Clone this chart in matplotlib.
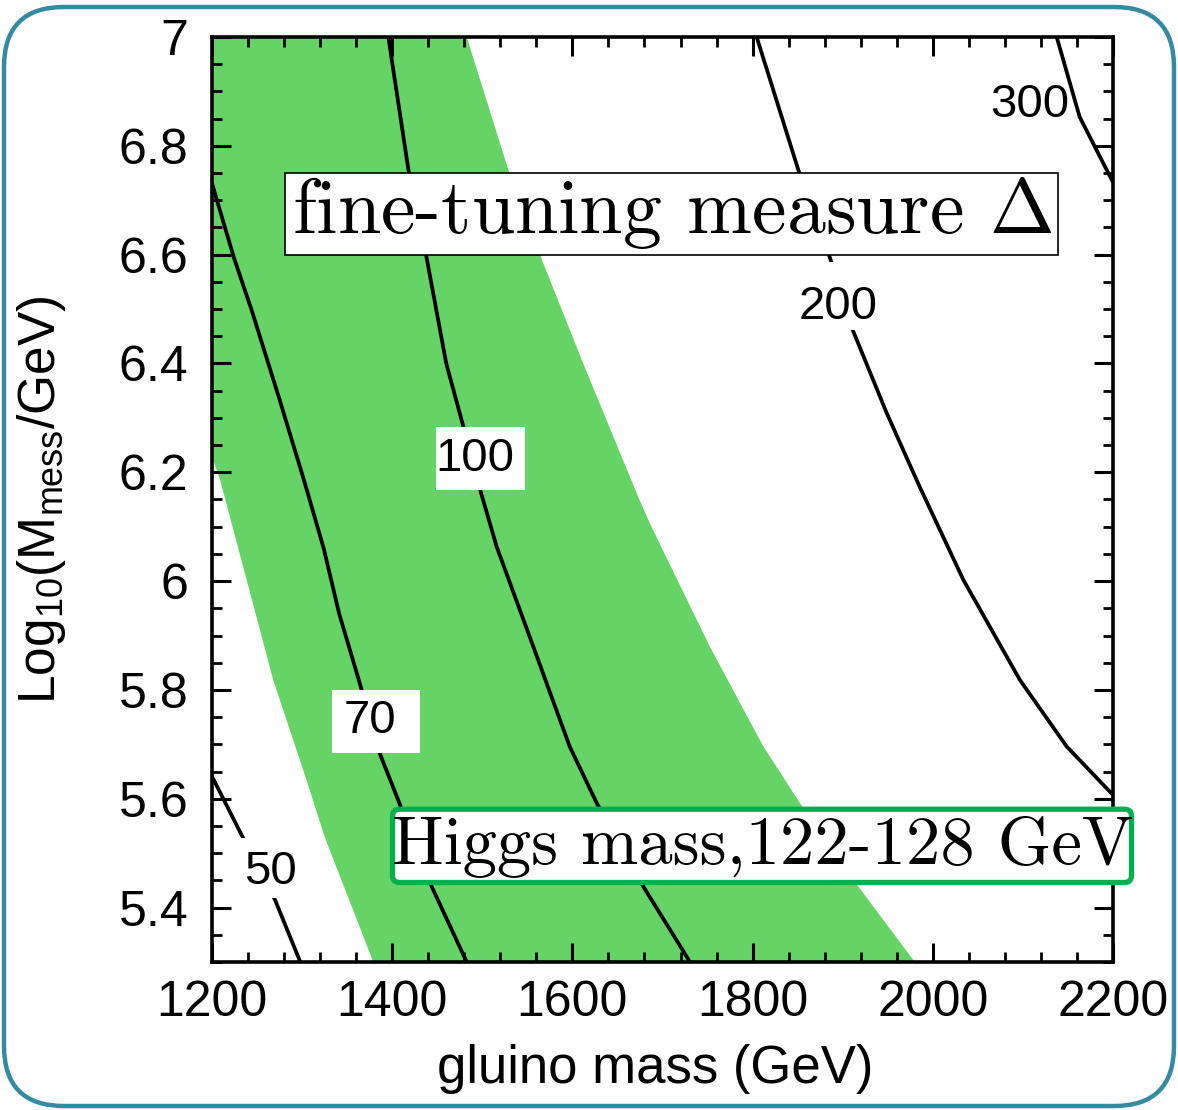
import numpy as np
import matplotlib
matplotlib.use('Agg')
import matplotlib.pyplot as plt
from matplotlib.patches import Rectangle, FancyBboxPatch
from matplotlib.ticker import MultipleLocator, FixedLocator, FixedFormatter
import matplotlib.transforms as mtransforms

plt.rcParams['font.family'] = ['Liberation Sans', 'DejaVu Sans']
plt.rcParams['mathtext.fontset'] = 'custom'
plt.rcParams['mathtext.rm'] = 'Liberation Sans'
plt.rcParams['mathtext.it'] = 'Liberation Sans:italic'
plt.rcParams['mathtext.bf'] = 'Liberation Sans:bold'
plt.rcParams['axes.formatter.use_mathtext'] = False

# ---------------- data ----------------
x_ticks = [1200, 1400, 1600, 1800, 2000, 2200]
x_tick_labels = ['1200', '1400', '1600', '1800', '2000', '2200']
y_ticks = [5.4, 5.6, 5.8, 6.0, 6.2, 6.4, 6.6, 6.8, 7.0]
y_tick_labels = ['5.4', '5.6', '5.8', '6', '6.2', '6.4', '6.6', '6.8', '7']

# Higgs mass 122-128 GeV band edges (gluino mass, log10 Mmess)
band_left_mass = [1379, 1325, 1305, 1268, 1238.5, 1209, 1200, 1130]
band_left_logm = [5.30, 5.53, 5.634, 5.818, 6.002, 6.186, 6.229, 7.0]
band_right_mass = [1980, 1911.8, 1852.6, 1812, 1752.7, 1686, 1673, 1612, 1567.7, 1528.9, 1482.7]
band_right_logm = [5.30, 5.451, 5.592, 5.696, 5.879, 6.106, 6.155, 6.40, 6.584, 6.756, 7.0]

# fine-tuning contours
c50_mass = [1200, 1233, 1270, 1298]
c50_logm = [5.641, 5.533, 5.414, 5.30]
c70_mass = [1200, 1224, 1244, 1274, 1302, 1324, 1341, 1363, 1386, 1408, 1444, 1482.7]
c70_logm = [6.731, 6.596, 6.498, 6.339, 6.186, 6.06, 5.941, 5.818, 5.684, 5.592, 5.438, 5.30]
c100_mass = [1395.7, 1418, 1438, 1460, 1479, 1499, 1516, 1551, 1597, 1627, 1679, 1730.5]
c100_logm = [7.0, 6.756, 6.596, 6.40, 6.284, 6.16, 6.063, 5.905, 5.696, 5.592, 5.438, 5.30]
c200_mass = [1804.5, 1850.7, 1887.8, 1911, 1948.8, 1985, 2034, 2096.8, 2148.6, 2200]
c200_logm = [7.0, 6.756, 6.585, 6.462, 6.309, 6.175, 6.002, 5.818, 5.696, 5.607]
c300_mass = [2137.5, 2163, 2200]
c300_logm = [7.0, 6.853, 6.733]

contours = [(c50_mass, c50_logm), (c70_mass, c70_logm), (c100_mass, c100_logm),
            (c200_mass, c200_logm), (c300_mass, c300_logm)]

# contour labels: (text, gluino mass, log10 Mmess)
label_text = ['50', '70', '100', '200', '300']
label_mass = [1264.4, 1375.4, 1491.9, 1894.8, 2107.9]
label_logm = [5.4654, 5.7429, 6.2253, 6.5038, 6.875]

# ---------------- figure ----------------
W, H = 1178, 1110
fig = plt.figure(figsize=(W / 100, H / 100), dpi=100)
pix = mtransforms.Affine2D().scale(1 / W, -1 / H).translate(0, 1) + fig.transFigure

ax = fig.add_axes([212 / W, 1 - 962 / H, 901 / W, 925 / H])
ax.set_xlim(1200, 2200)
ax.set_ylim(5.3, 7.0)

green = '#66d366'
band_x = list(band_left_mass) + list(band_right_mass[::-1])
band_y = list(band_left_logm) + list(band_right_logm[::-1])
ax.fill(band_x, band_y, color=green, lw=0, zorder=1)

for mx, ly in contours:
    ax.plot(mx, ly, color='black', lw=2.7, zorder=2, solid_capstyle='butt',
            solid_joinstyle='round')

# white gaps / boxes behind contour labels (pixel boxes)
label_boxes = {'50': (238, 838, 64, 60), '70': (332, 690, 88, 63),
               '100': (436, 427, 89, 63), '200': (795, 262, 88, 68)}
for t, mx, ly in zip(label_text, label_mass, label_logm):
    if t in label_boxes:
        bx, by, bw, bh = label_boxes[t]
        ax.add_patch(Rectangle((bx, by), bw, bh, transform=pix, fc='white',
                               ec='none', zorder=3))
    ax.text(mx, ly, t, ha='center', va='center', fontsize=34, zorder=4)

# ticks
ax.xaxis.set_major_locator(FixedLocator(x_ticks))
ax.xaxis.set_major_formatter(FixedFormatter(x_tick_labels))
ax.yaxis.set_major_locator(FixedLocator(y_ticks))
ax.yaxis.set_major_formatter(FixedFormatter(y_tick_labels))
ax.xaxis.set_minor_locator(MultipleLocator(40))
ax.yaxis.set_minor_locator(MultipleLocator(0.05))
ax.tick_params(which='both', direction='in', top=True, right=True)
ax.tick_params(which='major', length=14, width=2.2, labelsize=36)
ax.tick_params(axis='x', which='major', pad=13)
ax.tick_params(axis='y', which='major', pad=17)
ax.tick_params(which='minor', length=7.5, width=2.0)
for s in ax.spines.values():
    s.set_linewidth(2.6)

ax.set_xlabel('gluino mass (GeV)', fontsize=38)
ax.set_ylabel(r'Log$_{\mathrm{10}}$(M$_{\mathrm{mess}}$/GeV)', fontsize=37)
ax.xaxis.set_label_coords(0.492, -0.089)
ax.yaxis.set_label_coords(-0.16, 0.5)

# fine-tuning measure box
ax.add_patch(Rectangle((285, 172.7), 773, 82.3, transform=pix, fc='white',
                       ec='black', lw=1.2, zorder=5, clip_on=False))
ax.text(672, 233, r'fine-tuning measure $\Delta$', transform=pix,
        fontfamily='cmr10', math_fontfamily='cm', fontsize=56,
        ha='center', va='baseline', zorder=6)

# Higgs mass box
ax.add_patch(FancyBboxPatch((392.5, 809.2), 739, 73.3,
                            boxstyle='round,pad=0,rounding_size=7', transform=pix,
                            fc='white', ec='#00b050', lw=3.8, zorder=7, clip_on=False))
ax.text(762.5, 864, 'Higgs mass,122-128 GeV', transform=pix,
        fontfamily='cmr10', fontsize=49.5, ha='center', va='baseline', zorder=8)

# slide frame
fig.patches.append(FancyBboxPatch((4, 7), 1170, 1099,
                                  boxstyle='round,pad=0,rounding_size=60', transform=pix,
                                  fc='none', ec='#348aa0', lw=3.2, zorder=0))

fig.savefig('out.png', dpi=100)
